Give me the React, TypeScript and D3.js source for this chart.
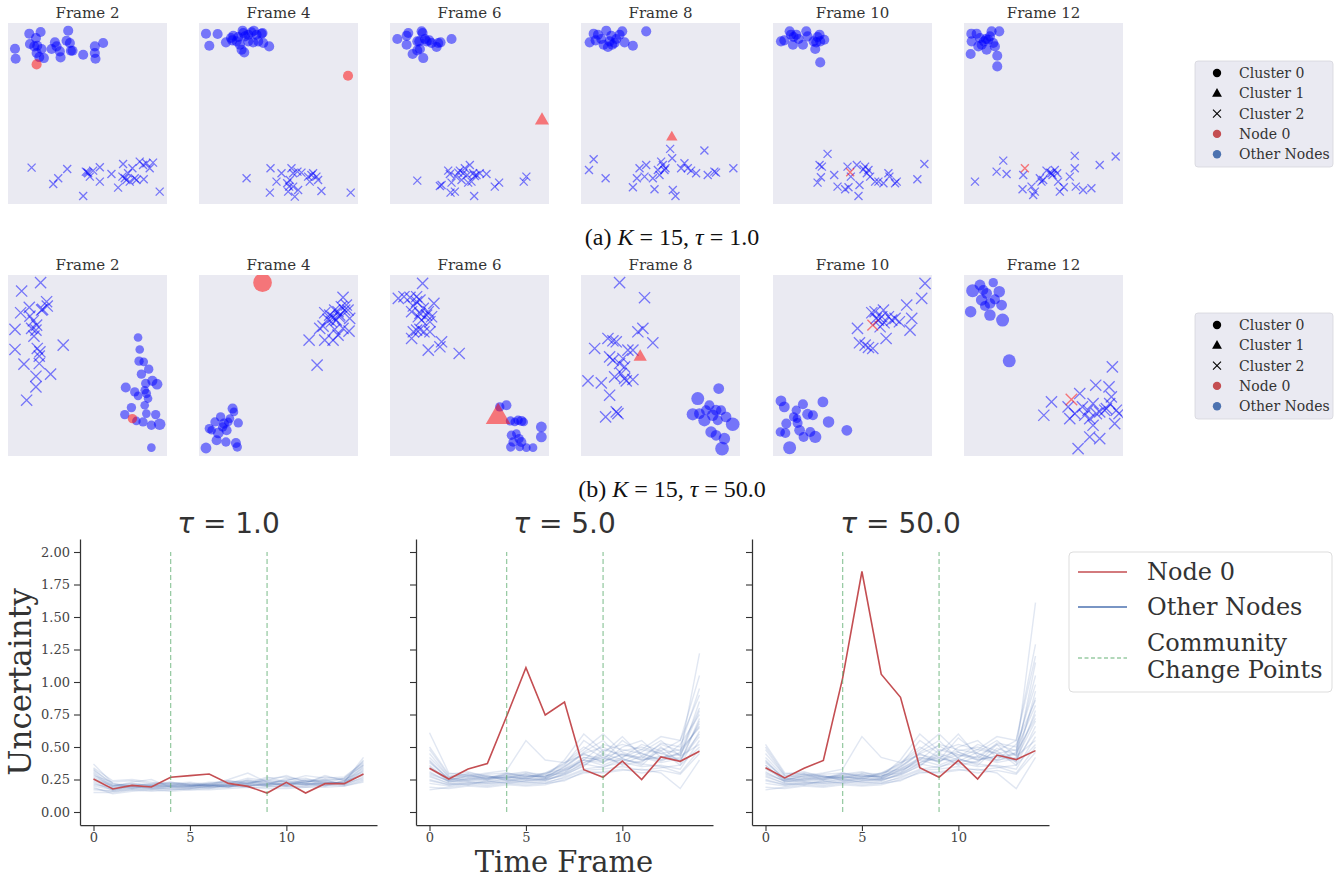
import React, { useEffect, useRef } from "react";
import * as d3 from "d3";

type P2 = [number, number];
type P3 = [number, number, number];
type NodeMark = { shape: "circle" | "triangle" | "cross"; x: number; y: number; s: number };

// ---------- Scatter data (embedding coordinates, per frame) ----------
const FRAME_TITLES = ["Frame 2", "Frame 4", "Frame 6", "Frame 8", "Frame 10", "Frame 12"];

// Row (a): K = 15, tau = 1.0
const a2Circles: P2[] = [[64,32],[98,27],[181,23],[21,77],[23,107],[66,63],[84,45],[79,70],[88,68],[101,78],[94,102],[108,105],[131,78],[141,58],[146,70],[156,85],[158,103],[176,53],[186,60],[189,83],[194,83],[226,95],[261,70],[261,90],[263,107],[286,60],[86,90]];
const a2Crosses: P2[] = [[71,433],[136,482],[151,465],[178,437],[226,518],[234,445],[241,450],[246,460],[256,442],[276,432],[276,475],[311,452],[331,493],[346,422],[351,465],[356,470],[361,450],[366,475],[374,435],[381,465],[386,470],[396,415],[406,425],[408,468],[416,420],[426,435],[436,418],[456,505],[238,447],[344,460]];
const a2Node: NodeMark = { shape: "circle", x: 86, y: 124, s: 14 };

const a4Circles: P2[] = [[21,32],[56,33],[31,68],[81,58],[96,45],[103,38],[118,42],[131,23],[138,40],[148,35],[158,28],[165,23],[173,35],[188,32],[163,58],[178,55],[193,60],[211,70],[123,65],[128,80],[136,88],[148,55],[100,52],[113,55],[133,30],[191,30]];
const a4Crosses: P2[] = [[143,465],[215,435],[213,508],[233,475],[248,450],[265,480],[271,490],[268,505],[278,435],[283,450],[288,520],[296,445],[298,500],[308,448],[333,475],[338,455],[343,450],[353,460],[358,470],[368,503],[456,508],[273,470],[283,490],[328,460]];
const a4Node: NodeMark = { shape: "circle", x: 448, y: 158, s: 14 };

const a6Circles: P2[] = [[22,48],[50,38],[55,30],[50,65],[68,93],[82,82],[90,78],[88,55],[95,25],[98,30],[100,105],[110,55],[118,52],[125,60],[140,72],[145,60],[152,58],[185,48],[82,55],[105,48]];
const a6Crosses: P2[] = [[82,472],[150,488],[155,485],[175,442],[180,452],[182,508],[185,478],[195,505],[198,460],[205,448],[210,442],[215,470],[225,435],[232,455],[240,425],[245,475],[250,450],[253,518],[255,458],[260,455],[270,450],[290,452],[315,490],[328,478],[402,475],[410,460],[235,478],[220,450]];
const a6Node: NodeMark = { shape: "triangle", x: 457, y: 292, s: 15 };

const a8Circles: P2[] = [[26,58],[38,32],[51,35],[61,48],[68,65],[76,23],[81,72],[86,55],[91,38],[101,60],[106,48],[116,35],[124,25],[131,58],[156,68],[196,25],[44,52],[94,65]];
const a8Crosses: P2[] = [[24,440],[38,408],[74,465],[156,492],[168,465],[176,435],[191,460],[196,425],[216,465],[221,498],[231,440],[236,455],[241,415],[246,425],[251,440],[254,435],[268,377],[274,405],[276,500],[284,518],[301,435],[311,420],[321,435],[331,442],[346,450],[371,382],[381,455],[401,445],[406,448],[458,435]];
const a8Node: NodeMark = { shape: "triangle", x: 273, y: 342, s: 12 };

const a10Circles: P2[] = [[24,55],[50,25],[54,35],[60,65],[62,42],[70,35],[77,48],[90,65],[100,25],[104,40],[122,55],[127,78],[130,58],[134,42],[140,35],[142,55],[154,50],[142,118],[34,52]];
const a10Crosses: P2[] = [[134,478],[140,425],[144,462],[147,430],[164,392],[184,455],[194,490],[217,498],[224,430],[227,492],[234,460],[252,425],[257,518],[260,485],[272,438],[277,430],[282,450],[287,440],[292,460],[307,475],[317,475],[332,480],[347,450],[350,460],[367,480],[372,475],[434,468],[455,422]];
const a10Node: NodeMark = { shape: "cross", x: 232, y: 447, s: 11 };

const a12Circles: P2[] = [[22,32],[23,55],[20,93],[38,32],[43,70],[53,65],[60,55],[66,48],[68,80],[73,50],[83,25],[88,60],[93,70],[106,25],[100,98],[100,130],[48,45],[78,40]];
const a12Crosses: P2[] = [[33,475],[98,445],[118,412],[128,452],[178,455],[176,498],[203,490],[208,515],[213,505],[228,465],[233,475],[238,470],[248,442],[258,448],[263,450],[266,455],[273,440],[283,475],[288,505],[300,492],[318,460],[333,398],[333,435],[336,490],[358,500],[383,495],[408,425],[456,400],[280,450]];
const a12Node: NodeMark = { shape: "cross", x: 183, y: 435, s: 11 };

// Row (b): K = 15, tau = 50.0 (third value = marker size)
const b2Circles: P3[] = [[391,187,12],[396,223,12],[394,258,13],[408,260,12],[423,282,13],[401,297,13],[414,325,13],[434,317,14],[448,327,15],[354,337,14],[381,350,13],[391,362,12],[416,355,13],[421,370,12],[411,390,12],[416,415,12],[444,418,13],[371,397,13],[351,418,13],[456,447,16],[431,450,13],[406,440,13],[386,437,12],[431,517,12],[411,345,12]];
const b2Crosses: P2[] = [[98,23],[41,48],[116,80],[118,93],[101,105],[64,97],[38,113],[66,123],[76,137],[71,160],[84,165],[78,183],[21,163],[166,210],[21,223],[88,220],[96,230],[94,243],[48,267],[94,265],[128,297],[84,303],[84,335],[56,375],[86,150],[104,103]];
const b2Node: NodeMark = { shape: "circle", x: 374, y: 430, s: 13 };

const b4Circles: P3[] = [[21,518,15],[31,460,13],[48,440,13],[58,473,15],[65,425,13],[75,445,14],[83,465,14],[88,440,12],[93,430,12],[101,400,14],[105,410,12],[111,503,14],[118,443,13],[115,515,13],[53,495,14],[81,500,13],[38,465,12],[71,455,13]];
const b4Crosses: P2[] = [[331,195],[355,270],[378,113],[388,133],[393,120],[398,140],[403,127],[408,163],[413,135],[418,110],[421,125],[423,120],[428,95],[433,67],[438,105],[443,90],[448,105],[453,130],[451,168],[363,160],[378,195],[403,195],[418,180],[433,160],[408,105],[373,153]];
const b4Node: NodeMark = { shape: "circle", x: 191, y: 23, s: 26 };

const b6Circles: P3[] = [[330,395,13],[350,390,14],[362,437,13],[375,440,12],[385,435,13],[395,437,14],[402,440,12],[365,480,13],[380,475,12],[388,490,13],[395,500,14],[390,515,12],[410,517,12],[430,517,12],[363,515,13],[455,455,15],[455,485,15],[370,500,13]];
const b6Crosses: P2[] = [[25,70],[42,65],[60,67],[98,25],[65,110],[70,93],[80,80],[85,125],[90,115],[95,135],[100,100],[110,120],[115,110],[120,140],[125,125],[132,85],[65,190],[70,170],[80,165],[90,163],[102,170],[115,225],[120,170],[150,215],[155,200],[208,235],[80,65],[90,75]];
const b6Node: NodeMark = { shape: "triangle", x: 325, y: 425, s: 26 };

const b8Circles: P3[] = [[351,370,18],[414,340,15],[336,417,17],[356,415,15],[371,435,17],[386,390,14],[396,420,16],[406,405,15],[411,435,14],[421,405,14],[436,425,15],[456,447,19],[391,470,16],[406,480,15],[431,490,16],[424,520,19],[376,405,14]];
const b8Crosses: P2[] = [[116,23],[191,68],[216,203],[186,160],[171,170],[156,225],[41,220],[21,317],[61,323],[86,360],[74,425],[106,410],[111,415],[81,190],[96,197],[106,200],[86,245],[96,255],[116,265],[126,250],[131,275],[141,225],[101,305],[121,295],[136,317],[156,313],[131,310]];
const b8Node: NodeMark = { shape: "triangle", x: 178, y: 245, s: 14 };

const b10Circles: P3[] = [[24,377,15],[34,395,15],[22,470,13],[37,473,14],[40,445,14],[50,517,18],[62,425,13],[70,405,13],[74,443,14],[80,465,15],[90,387,14],[92,485,14],[104,417,15],[112,470,14],[120,420,14],[127,485,17],[150,380,15],[167,440,16],[222,465,15],[72,430,12]];
const b10Crosses: P2[] = [[254,160],[260,203],[277,210],[287,217],[300,220],[297,113],[310,130],[317,135],[327,125],[334,143],[340,190],[347,125],[357,135],[367,130],[380,140],[402,90],[417,130],[412,165],[447,70],[457,25],[332,105],[307,110],[322,155]];
const b10Node: NodeMark = { shape: "cross", x: 300, y: 150, s: 15 };

const b12Circles: P3[] = [[26,47,18],[48,30,15],[53,75,16],[68,55,15],[78,85,15],[88,23,13],[93,73,14],[106,50,16],[113,90,15],[78,120,16],[116,135,18],[20,110,16],[63,93,14],[136,257,18],[58,45,14]];
const b12Crosses: P2[] = [[240,420],[263,380],[446,275],[348,355],[396,330],[436,335],[443,365],[313,395],[333,415],[356,395],[363,420],[373,405],[378,430],[388,450],[398,415],[408,410],[423,405],[438,385],[453,445],[458,405],[378,485],[408,490],[343,520],[318,430],[466,415],[428,400],[388,385]];
const b12Node: NodeMark = { shape: "cross", x: 323, y: 373, s: 16 };

// ---------- Uncertainty line data ----------
const TIME_FRAMES = d3.range(15);
const CHANGE_POINTS = [4, 9];
const Y_TICKS = [0, 0.25, 0.5, 0.75, 1.0, 1.25, 1.5, 1.75, 2.0];
const X_TICKS = [0, 5, 10];
const TAU_TITLES = ["1.0", "5.0", "50.0"];

const node0Tau1 = [0.254,0.177,0.205,0.192,0.267,0.28,0.292,0.22,0.197,0.146,0.228,0.146,0.218,0.218,0.292];
const node0Tau5 = [0.336,0.254,0.33,0.372,0.736,1.11,0.746,0.846,0.326,0.267,0.392,0.249,0.423,0.39,0.467];
const node0Tau50 = [0.341,0.262,0.336,0.397,1.03,1.85,1.06,0.882,0.341,0.267,0.397,0.254,0.438,0.403,0.472];

const othersTau1: number[][] = [
  [0.37,0.22,0.20,0.19,0.20,0.20,0.19,0.21,0.22,0.21,0.22,0.21,0.22,0.23,0.40],
  [0.30,0.19,0.21,0.20,0.19,0.18,0.20,0.22,0.24,0.23,0.20,0.24,0.23,0.22,0.33],
  [0.22,0.17,0.19,0.18,0.18,0.19,0.18,0.21,0.20,0.22,0.24,0.22,0.20,0.24,0.28],
  [0.18,0.16,0.18,0.17,0.19,0.20,0.21,0.19,0.21,0.20,0.21,0.23,0.25,0.21,0.25],
  [0.26,0.20,0.22,0.21,0.20,0.19,0.22,0.24,0.22,0.25,0.23,0.21,0.24,0.26,0.36],
  [0.33,0.21,0.20,0.22,0.23,0.21,0.20,0.20,0.23,0.21,0.25,0.26,0.22,0.23,0.42],
  [0.15,0.15,0.17,0.16,0.17,0.18,0.19,0.20,0.19,0.19,0.20,0.19,0.21,0.20,0.24],
  [0.24,0.18,0.19,0.20,0.21,0.22,0.20,0.22,0.26,0.24,0.22,0.23,0.27,0.25,0.31],
  [0.28,0.23,0.24,0.22,0.22,0.21,0.23,0.23,0.21,0.26,0.27,0.24,0.23,0.22,0.35],
  [0.20,0.17,0.18,0.19,0.18,0.17,0.18,0.19,0.22,0.20,0.19,0.20,0.22,0.21,0.27],
  [0.34,0.24,0.25,0.23,0.21,0.20,0.21,0.25,0.30,0.23,0.24,0.28,0.26,0.27,0.38],
  [0.21,0.19,0.20,0.18,0.20,0.21,0.19,0.20,0.20,0.22,0.21,0.22,0.21,0.23,0.30],
  [0.29,0.18,0.21,0.21,0.22,0.20,0.22,0.23,0.24,0.21,0.26,0.22,0.28,0.24,0.34],
  [0.17,0.16,0.17,0.18,0.17,0.18,0.20,0.21,0.20,0.21,0.22,0.21,0.20,0.22,0.26],
  [0.25,0.20,0.23,0.25,0.19,0.19,0.21,0.22,0.23,0.23,0.21,0.25,0.24,0.21,0.32],
  [0.32,0.22,0.19,0.20,0.21,0.22,0.20,0.24,0.22,0.24,0.28,0.23,0.25,0.25,0.37],
  [0.23,0.17,0.20,0.19,0.20,0.20,0.21,0.19,0.25,0.22,0.20,0.21,0.23,0.22,0.29],
  [0.27,0.21,0.18,0.21,0.23,0.21,0.22,0.21,0.22,0.27,0.23,0.22,0.22,0.26,0.39],
  [0.19,0.14,0.16,0.17,0.16,0.17,0.17,0.18,0.19,0.18,0.18,0.19,0.19,0.20,0.23],
  [0.31,0.20,0.22,0.20,0.22,0.23,0.21,0.20,0.21,0.20,0.23,0.24,0.21,0.24,0.36],
];

const othersTau5: number[][] = [
  [0.61,0.30,0.28,0.26,0.27,0.26,0.25,0.33,0.40,0.38,0.45,0.40,0.42,0.45,1.22],
  [0.45,0.27,0.30,0.28,0.26,0.28,0.27,0.35,0.45,0.50,0.42,0.52,0.47,0.55,0.90],
  [0.40,0.25,0.27,0.25,0.29,0.27,0.28,0.30,0.42,0.40,0.55,0.45,0.40,0.42,0.85],
  [0.35,0.23,0.25,0.27,0.25,0.24,0.26,0.32,0.38,0.45,0.40,0.38,0.50,0.38,0.72],
  [0.30,0.24,0.28,0.30,0.32,0.55,0.40,0.38,0.50,0.42,0.47,0.50,0.45,0.48,0.65],
  [0.28,0.22,0.24,0.23,0.26,0.25,0.24,0.29,0.35,0.48,0.44,0.42,0.38,0.41,0.60],
  [0.25,0.21,0.23,0.22,0.24,0.23,0.22,0.27,0.33,0.35,0.38,0.35,0.36,0.33,0.55],
  [0.38,0.26,0.29,0.27,0.28,0.30,0.29,0.36,0.55,0.45,0.58,0.43,0.52,0.47,0.80],
  [0.22,0.20,0.22,0.21,0.23,0.22,0.23,0.26,0.32,0.33,0.35,0.32,0.34,0.36,0.50],
  [0.33,0.25,0.26,0.24,0.27,0.29,0.26,0.31,0.40,0.36,0.42,0.48,0.45,0.40,0.58],
  [0.48,0.28,0.27,0.29,0.30,0.27,0.30,0.37,0.48,0.60,0.46,0.41,0.53,0.50,0.95],
  [0.19,0.18,0.20,0.19,0.21,0.20,0.21,0.25,0.30,0.31,0.33,0.30,0.32,0.29,0.45],
  [0.36,0.24,0.25,0.26,0.29,0.31,0.27,0.34,0.45,0.38,0.50,0.55,0.42,0.44,0.68],
  [0.27,0.22,0.21,0.24,0.22,0.24,0.25,0.28,0.36,0.44,0.36,0.39,0.47,0.36,0.62],
  [0.42,0.27,0.29,0.25,0.27,0.26,0.28,0.32,0.40,0.52,0.48,0.45,0.40,0.52,0.75],
  [0.31,0.23,0.26,0.28,0.24,0.27,0.29,0.38,0.44,0.41,0.39,0.46,0.55,0.43,0.52],
  [0.24,0.21,0.22,0.23,0.25,0.23,0.24,0.30,0.37,0.34,0.41,0.37,0.35,0.30,0.48],
  [0.50,0.29,0.31,0.27,0.26,0.29,0.27,0.40,0.60,0.47,0.52,0.48,0.58,0.55,1.05],
  [0.34,0.26,0.24,0.25,0.28,0.25,0.30,0.33,0.42,0.39,0.44,0.40,0.43,0.39,0.70],
  [0.17,0.19,0.21,0.20,0.22,0.21,0.22,0.24,0.31,0.30,0.32,0.33,0.30,0.18,0.40],
  [0.29,0.24,0.23,0.22,0.23,0.26,0.25,0.29,0.38,0.42,0.37,0.43,0.39,0.46,0.66],
  [0.39,0.25,0.28,0.26,0.30,0.28,0.26,0.35,0.46,0.55,0.41,0.36,0.49,0.44,0.78],
];

const othersTau50: number[][] = [
  [0.52,0.30,0.29,0.27,0.27,0.26,0.25,0.33,0.41,0.39,0.46,0.40,0.43,0.45,1.61],
  [0.45,0.28,0.30,0.28,0.26,0.28,0.27,0.35,0.45,0.51,0.42,0.52,0.47,0.55,1.29],
  [0.40,0.25,0.27,0.25,0.29,0.27,0.28,0.30,0.42,0.40,0.57,0.45,0.40,0.42,1.15],
  [0.36,0.23,0.25,0.27,0.25,0.24,0.26,0.32,0.38,0.45,0.40,0.38,0.52,0.38,0.93],
  [0.30,0.24,0.28,0.30,0.33,0.58,0.42,0.38,0.50,0.42,0.47,0.50,0.45,0.48,0.82],
  [0.28,0.22,0.24,0.23,0.26,0.25,0.24,0.29,0.35,0.48,0.44,0.42,0.38,0.41,0.70],
  [0.25,0.21,0.23,0.22,0.24,0.23,0.22,0.27,0.33,0.35,0.38,0.35,0.36,0.33,0.58],
  [0.38,0.26,0.29,0.27,0.28,0.30,0.29,0.36,0.55,0.45,0.60,0.43,0.52,0.47,1.05],
  [0.22,0.20,0.22,0.21,0.23,0.22,0.23,0.26,0.32,0.33,0.35,0.32,0.34,0.36,0.52],
  [0.33,0.25,0.26,0.24,0.27,0.29,0.26,0.31,0.40,0.36,0.42,0.48,0.45,0.40,0.62],
  [0.48,0.28,0.27,0.29,0.30,0.27,0.30,0.37,0.48,0.60,0.46,0.41,0.53,0.50,0.98],
  [0.19,0.18,0.20,0.19,0.21,0.20,0.21,0.25,0.30,0.31,0.33,0.30,0.32,0.29,0.46],
  [0.36,0.24,0.25,0.26,0.29,0.31,0.27,0.34,0.45,0.38,0.50,0.55,0.42,0.44,0.75],
  [0.27,0.22,0.21,0.24,0.22,0.24,0.25,0.28,0.36,0.44,0.36,0.39,0.47,0.36,0.66],
  [0.42,0.27,0.29,0.25,0.27,0.26,0.28,0.32,0.40,0.52,0.48,0.45,0.40,0.52,0.86],
  [0.31,0.23,0.26,0.28,0.24,0.27,0.29,0.38,0.44,0.41,0.39,0.46,0.55,0.43,0.55],
  [0.24,0.21,0.22,0.23,0.25,0.23,0.24,0.30,0.37,0.34,0.41,0.37,0.35,0.30,0.50],
  [0.50,0.29,0.31,0.27,0.26,0.29,0.27,0.40,0.60,0.47,0.52,0.48,0.58,0.55,1.20],
  [0.34,0.26,0.24,0.25,0.28,0.25,0.30,0.33,0.42,0.39,0.44,0.40,0.43,0.39,0.78],
  [0.17,0.19,0.21,0.20,0.22,0.21,0.22,0.24,0.31,0.30,0.32,0.33,0.30,0.18,0.42],
  [0.29,0.24,0.23,0.22,0.23,0.26,0.25,0.29,0.38,0.42,0.37,0.43,0.39,0.46,0.72],
  [0.39,0.25,0.28,0.26,0.30,0.28,0.26,0.35,0.46,0.55,0.41,0.36,0.49,0.44,0.88],
];

// ---------- styling ----------
const SERIF = "'DejaVu Serif', serif";
const SANS = "'DejaVu Sans', sans-serif";
const TXT = "#333333";
const PANEL_BG = "#EAEAF2";
const RED = "#C44E52";
const BLUE = "#4C72B0";
const GREEN = "#55A868";

const W = 1343;
const H = 879;

function draw(root: SVGSVGElement) {
  const svg = d3.select(root);
  svg.selectAll("*").remove();
  svg.append("rect").attr("width", W).attr("height", H).attr("fill", "#fff");

  const rows = [
    {
      top: 23, titleY: 18, crossSize: 4,
      panels: [
        { c: a2Circles.map(d => [d[0], d[1], 14] as P3), x: a2Crosses, n: a2Node },
        { c: a4Circles.map(d => [d[0], d[1], 14] as P3), x: a4Crosses, n: a4Node },
        { c: a6Circles.map(d => [d[0], d[1], 14] as P3), x: a6Crosses, n: a6Node },
        { c: a8Circles.map(d => [d[0], d[1], 14] as P3), x: a8Crosses, n: a8Node },
        { c: a10Circles.map(d => [d[0], d[1], 14] as P3), x: a10Crosses, n: a10Node },
        { c: a12Circles.map(d => [d[0], d[1], 14] as P3), x: a12Crosses, n: a12Node },
      ],
      legendTop: 61,
      caption: ["(a) ", "K", " = 15, ", "τ", " = 1.0"], captionY: 245,
    },
    {
      top: 275, titleY: 270, crossSize: 5.6,
      panels: [
        { c: b2Circles, x: b2Crosses, n: b2Node },
        { c: b4Circles, x: b4Crosses, n: b4Node },
        { c: b6Circles, x: b6Crosses, n: b6Node },
        { c: b8Circles, x: b8Crosses, n: b8Node },
        { c: b10Circles, x: b10Crosses, n: b10Node },
        { c: b12Circles, x: b12Crosses, n: b12Node },
      ],
      legendTop: 313,
      caption: ["(b) ", "K", " = 15, ", "τ", " = 50.0"], captionY: 497,
    },
  ];

  const panelLefts = [8, 199, 390, 581, 773, 964];
  const PW = 159;
  const PH = 181;
  const sizeScale = d3.scaleLinear().domain([0, 30]).range([0, 10.8]);

  const crossPath = (cx: number, cy: number, s: number) =>
    `M${cx - s},${cy - s}L${cx + s},${cy + s}M${cx - s},${cy + s}L${cx + s},${cy - s}`;

  let clipId = 0;
  rows.forEach((row) => {
    row.panels.forEach((p, pi) => {
      const x0 = panelLefts[pi];
      const xs = d3.scaleLinear().domain([0, 478]).range([x0, x0 + PW]);
      const ys = d3.scaleLinear().domain([0, 542]).range([row.top, row.top + PH]);
      const g = svg.append("g");
      const id = `clip${clipId++}`;
      g.append("clipPath").attr("id", id).append("rect")
        .attr("x", x0).attr("y", row.top).attr("width", PW).attr("height", PH);
      g.append("rect").attr("x", x0).attr("y", row.top).attr("width", PW).attr("height", PH).attr("fill", PANEL_BG);
      g.append("text").attr("x", x0 + PW / 2).attr("y", row.titleY).attr("text-anchor", "middle")
        .attr("font-family", SERIF).attr("font-size", 15).attr("fill", TXT).text(FRAME_TITLES[pi]);
      const inner = g.append("g").attr("clip-path", `url(#${id})`);
      inner.selectAll("circle.pt").data(p.c).join("circle")
        .attr("cx", d => xs(d[0])).attr("cy", d => ys(d[1])).attr("r", d => sizeScale(d[2]))
        .attr("fill", "blue").attr("fill-opacity", 0.5);
      inner.selectAll("path.cx").data(p.x).join("path")
        .attr("d", d => crossPath(xs(d[0]), ys(d[1]), row.crossSize))
        .attr("stroke", "blue").attr("stroke-opacity", 0.5).attr("stroke-width", 1.3).attr("fill", "none");
      const n = p.n;
      const nx = xs(n.x), ny = ys(n.y), nr = sizeScale(n.s);
      if (n.shape === "circle") {
        inner.append("circle").attr("cx", nx).attr("cy", ny).attr("r", nr).attr("fill", "red").attr("fill-opacity", 0.5);
      } else if (n.shape === "triangle") {
        const area = (nr * 2) * (nr * 2) * 0.75;
        inner.append("path").attr("d", d3.symbol().type(d3.symbolTriangle).size(area)() as string)
          .attr("transform", `translate(${nx},${ny})`).attr("fill", "red").attr("fill-opacity", 0.5);
      } else {
        inner.append("path").attr("d", crossPath(nx, ny, nr * 1.0))
          .attr("stroke", "red").attr("stroke-opacity", 0.5).attr("stroke-width", 1.4).attr("fill", "none");
      }
    });

    // caption
    const cap = svg.append("text").attr("x", 672).attr("y", row.captionY).attr("text-anchor", "middle")
      .attr("font-family", "'Liberation Serif', 'DejaVu Serif', serif").attr("font-size", 24).attr("fill", "#111");
    row.caption.forEach((s, i) => {
      cap.append("tspan").attr("font-style", i === 1 || i === 3 ? "italic" : "normal")
        .style("white-space", "pre").text(s);
    });

    // legend
    const lt = row.legendTop;
    const lg = svg.append("g");
    lg.append("rect").attr("x", 1195).attr("y", lt).attr("width", 138).attr("height", 106).attr("rx", 3)
      .attr("fill", PANEL_BG).attr("stroke", "#d5d5dc").attr("stroke-width", 0.8);
    const items = [
      { label: "Cluster 0", kind: "circle", color: "#000" },
      { label: "Cluster 1", kind: "triangle", color: "#000" },
      { label: "Cluster 2", kind: "cross", color: "#000" },
      { label: "Node 0", kind: "circle", color: RED },
      { label: "Other Nodes", kind: "circle", color: BLUE },
    ];
    items.forEach((it, i) => {
      const cy = lt + 12 + i * 20.3;
      const mx = 1217;
      if (it.kind === "circle") {
        lg.append("circle").attr("cx", mx).attr("cy", cy).attr("r", 4.2).attr("fill", it.color);
      } else if (it.kind === "triangle") {
        lg.append("path").attr("d", d3.symbol().type(d3.symbolTriangle).size(42)() as string)
          .attr("transform", `translate(${mx},${cy + 0.5})`).attr("fill", it.color);
      } else {
        lg.append("path").attr("d", crossPath(mx, cy, 4)).attr("stroke", it.color).attr("stroke-width", 1.1).attr("fill", "none");
      }
      lg.append("text").attr("x", 1239).attr("y", cy + 5).attr("font-family", SERIF).attr("font-size", 14)
        .attr("fill", TXT).text(it.label);
    });
  });

  // ---------- line panels ----------
  const lineLefts = [80, 416, 752];
  const LW = 297;
  const LTOP = 539;
  const LBOT = 825;
  const nodeSeries = [node0Tau1, node0Tau5, node0Tau50];
  const otherSeries = [othersTau1, othersTau5, othersTau50];

  lineLefts.forEach((lx, k) => {
    const xs = d3.scaleLinear().domain([-0.7, 14.7]).range([lx, lx + LW]);
    const ys = d3.scaleLinear().domain([-0.1, 2.1]).range([LBOT, LTOP]);
    const g = svg.append("g");
    const line = d3.line<number>().x((_, i) => xs(TIME_FRAMES[i])).y(d => ys(d));

    g.selectAll("path.other").data(otherSeries[k]).join("path")
      .attr("d", d => line(d) as string).attr("fill", "none")
      .attr("stroke", BLUE).attr("stroke-opacity", 0.17).attr("stroke-width", 1.4);
    g.append("path").attr("d", line(nodeSeries[k]) as string).attr("fill", "none")
      .attr("stroke", RED).attr("stroke-width", 1.6);
    CHANGE_POINTS.forEach(cp => {
      g.append("line").attr("x1", xs(cp)).attr("x2", xs(cp)).attr("y1", ys(0)).attr("y2", ys(2))
        .attr("stroke", GREEN).attr("stroke-opacity", 0.6).attr("stroke-width", 1.3).attr("stroke-dasharray", "5,3");
    });

    const yAxis = d3.axisLeft(ys).tickValues(Y_TICKS).tickSize(6).tickPadding(4).tickSizeOuter(0)
      .tickFormat(k === 0 ? (d => d3.format(".2f")(d as number)) : (() => ""));
    const ya = g.append("g").attr("transform", `translate(${lx},0)`).call(yAxis);
    const xAxis = d3.axisBottom(xs).tickValues(X_TICKS).tickSize(6).tickPadding(2).tickSizeOuter(0)
      .tickFormat(d => String(d));
    const xa = g.append("g").attr("transform", `translate(0,${LBOT})`).call(xAxis);
    [ya, xa].forEach(a => {
      a.select(".domain").attr("stroke", TXT).attr("stroke-width", 1.25);
      a.selectAll(".tick line").attr("stroke", TXT).attr("stroke-width", 1.1);
      a.selectAll(".tick text").attr("font-family", SERIF).attr("font-size", 13).attr("fill", "#444");
    });

    const t = g.append("text").attr("x", lx + LW / 2).attr("y", 533).attr("text-anchor", "middle")
      .attr("font-family", SANS).attr("font-size", 28).attr("fill", TXT);
    t.append("tspan").attr("font-style", "italic").text("τ");
    t.append("tspan").text(" = " + TAU_TITLES[k]);
  });

  svg.append("text").attr("transform", `translate(31,682) rotate(-90)`).attr("text-anchor", "middle")
    .attr("font-family", SERIF).attr("font-size", 31).attr("fill", TXT).text("Uncertainty");
  svg.append("text").attr("x", 564).attr("y", 872).attr("text-anchor", "middle")
    .attr("font-family", SERIF).attr("font-size", 29).attr("fill", TXT).text("Time Frame");

  // bottom legend
  const bl = svg.append("g");
  bl.append("rect").attr("x", 1069).attr("y", 552).attr("width", 263).attr("height", 140).attr("rx", 4)
    .attr("fill", "#fff").attr("stroke", "#dddddd").attr("stroke-width", 1);
  const bItems = [
    { lines: ["Node 0"], color: RED, dash: null as string | null, ly: 572, ty: [580] },
    { lines: ["Other Nodes"], color: BLUE, dash: null, ly: 607, ty: [615] },
    { lines: ["Community", "Change Points"], color: GREEN, dash: "4,2.5", ly: 658, ty: [651, 678] },
  ];
  bItems.forEach(it => {
    bl.append("line").attr("x1", 1078).attr("x2", 1127).attr("y1", it.ly).attr("y2", it.ly)
      .attr("stroke", it.color).attr("stroke-width", 1.5)
      .attr("stroke-opacity", it.dash ? 0.6 : 1)
      .attr("stroke-dasharray", it.dash ?? null);
    it.lines.forEach((s, i) => {
      bl.append("text").attr("x", 1147).attr("y", it.ty[i]).attr("font-family", SERIF).attr("font-size", 24)
        .attr("fill", TXT).text(s);
    });
  });
}

export default function App() {
  const ref = useRef<SVGSVGElement>(null);
  useEffect(() => {
    if (ref.current) draw(ref.current);
  }, []);
  return (
    <svg ref={ref} width={W} height={H} style={{ position: "absolute", left: 0, top: 0, display: "block" }} />
  );
}
